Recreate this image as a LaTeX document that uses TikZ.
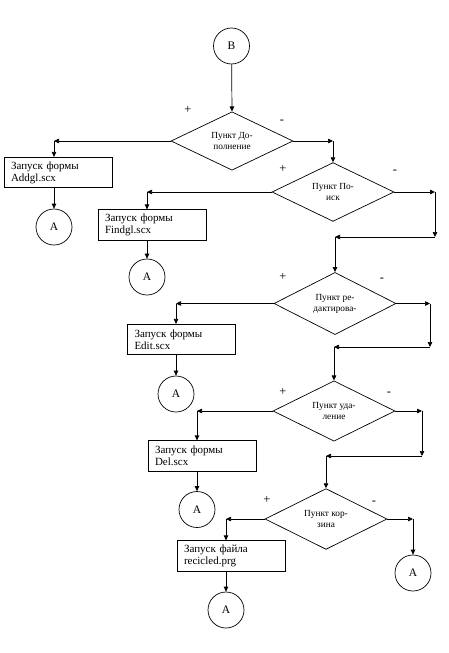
\documentclass[tikz,border=0pt]{standalone}
\usepackage{fontspec}
\setmainfont{Liberation Serif}
\usetikzlibrary{shapes.geometric,arrows.meta,calc}
\begin{document}
\begin{tikzpicture}[x=1pt,y=-1pt,
  line width=0.7pt,
  dec/.style={draw,diamond,inner sep=0pt,minimum width=122pt,minimum height=57pt,
    align=center,font=\fontsize{9.3}{11}\selectfont},
  proc/.style={draw,rectangle,inner sep=0pt,minimum width=108pt,minimum height=30.5pt,
    align=left,text width=94pt,font=\fontsize{11}{12}\selectfont},
  conn/.style={draw,circle,inner sep=0pt,minimum size=36pt,font=\fontsize{11.5}{12}\selectfont},
  lbl/.style={inner sep=0pt,font=\fontsize{12.5}{12}\selectfont},
  arr/.style={-{Triangle[length=5pt,width=4.5pt]}}]
\useasboundingbox (0,0) rectangle (448,653);

% nodes
\node[conn] (B) at (231.5,46) {B};
\node[dec] (D1) at (232,141) {Пункт До-\\полнение};
\node[dec] (D2) at (333,192) {Пункт По-\\иск};
\node[dec] (D3) at (335,303.5) {Пункт ре-\\дактирова-};
\node[dec] (D4) at (334,411) {Пункт уда-\\ление};
\node[dec] (D5) at (326,519) {Пункт кор-\\зина};

\node[proc] (B1) at (58,172.5) {Запуск формы\\Addgl.scx};
\node[proc] (B2) at (152,225) {Запуск формы\\Findgl.scx};
\node[proc] (B3) at (181.5,339.5) {Запуск формы\\Edit.scx};
\node[proc] (B4) at (202,456) {Запуск формы\\Del.scx};
\node[proc] (B5) at (231,556) {Запуск файла\\recicled.prg};

\node[conn] (A1) at (54,227) {A};
\node[conn] (A2) at (147,277) {A};
\node[conn] (A3) at (176,394) {A};
\node[conn] (A4) at (197,509.5) {A};
\node[conn] (A5) at (226,610) {A};
\node[conn] (A6) at (413,573) {A};

% labels
\node[lbl] (p1) at (188,110) {+};
\node[lbl] (m1) at (282,122) {-};
\node[lbl] (p2) at (283,169) {+};
\node[lbl] (m2l) at (395,172) {-};
\node[lbl] (p3) at (283,277) {+};
\node[lbl] (m3l) at (382,280) {-};
\node[lbl] (p4) at (283,392) {+};
\node[lbl] (m4l) at (389,394) {-};
\node[lbl] (p5) at (267,500) {+};
\node[lbl] (m5l) at (374,503) {-};

% corner coordinates
\coordinate (l1) at (54,141);
\coordinate (r1) at (333,141);
\coordinate (l2) at (147,192);
\coordinate (r2) at (435,192);
\coordinate (r2b) at (435,237);
\coordinate (c2) at (D3.north |- r2b);
\coordinate (l3) at (176,303.5);
\coordinate (r3) at (430,303.5);
\coordinate (r3b) at (430,347);
\coordinate (c3) at (D4.north |- r3b);
\coordinate (l4) at (197,411);
\coordinate (r4) at (422,411);
\coordinate (r4b) at (422,456);
\coordinate (c4) at (D5.north |- r4b);
\coordinate (l5) at (226,519);
\coordinate (r5) at (413,519);

% connectors
\draw[arr] (B) -- (D1.north);
\draw[arr] (D1.west) -- (l1);
\draw[arr] (l1) -- (l1 |- B1.north);
\draw[arr] (l1 |- B1.south) -- (A1);
\draw[arr] (D1.east) -- (r1);
\draw[arr] (r1) -- (D2.north);

\draw[arr] (D2.west) -- (l2);
\draw[arr] (l2) -- (l2 |- B2.north);
\draw[arr] (l2 |- B2.south) -- (A2);
\draw[arr] (D2.east) -- (r2);
\draw[arr] (r2) -- (r2b);
\draw[arr] (r2b) -- (c2);
\draw[arr] (c2) -- (D3.north);

\draw[arr] (D3.west) -- (l3);
\draw[arr] (l3) -- (l3 |- B3.north);
\draw[arr] (l3 |- B3.south) -- (A3);
\draw[arr] (D3.east) -- (r3);
\draw[arr] (r3) -- (r3b);
\draw[arr] (r3b) -- (c3);
\draw[arr] (c3) -- (D4.north);

\draw[arr] (D4.west) -- (l4);
\draw[arr] (l4) -- (l4 |- B4.north);
\draw[arr] (l4 |- B4.south) -- (A4);
\draw[arr] (D4.east) -- (r4);
\draw[arr] (r4) -- (r4b);
\draw[arr] (r4b) -- (c4);
\draw[arr] (c4) -- (D5.north);

\draw[arr] (D5.west) -- (l5);
\draw[arr] (l5) -- (l5 |- B5.north);
\draw[arr] (l5 |- B5.south) -- (A5);
\draw[arr] (D5.east) -- (r5);
\draw[arr] (r5) -- (A6);
\end{tikzpicture}
\end{document}
